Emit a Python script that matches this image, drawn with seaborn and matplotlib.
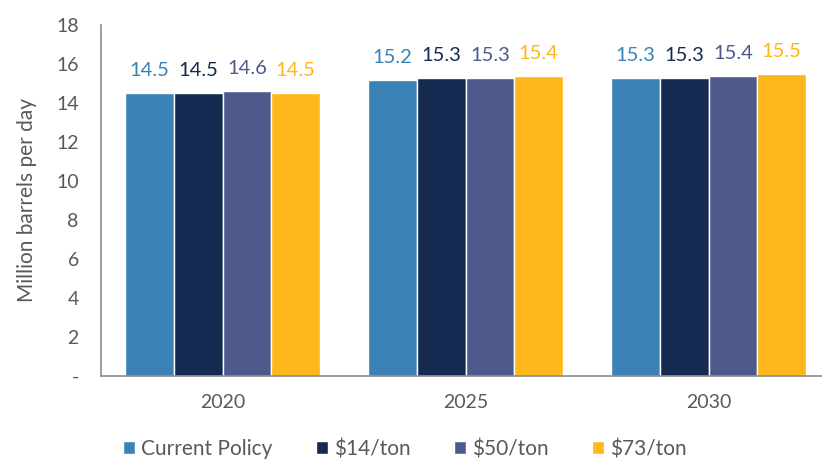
import matplotlib.pyplot as plt
import seaborn as sns
import pandas as pd
from matplotlib.ticker import FuncFormatter

years = ["2020", "2025", "2030"]
scenarios = ["Current Policy", "$14/ton", "$50/ton", "$73/ton"]
current_policy = [14.5, 15.2, 15.3]
tax_14 = [14.5, 15.3, 15.3]
tax_50 = [14.6, 15.3, 15.4]
tax_73 = [14.5, 15.4, 15.5]

colors = ["#3A82B5", "#142A50", "#4F5A8C", "#FDB71A"]
text_grey = "#595959"

df = pd.DataFrame({
    "year": years * 4,
    "scenario": [s for s in scenarios for _ in years],
    "value": current_policy + tax_14 + tax_50 + tax_73,
})

sns.set_style("white")
plt.rcParams["font.family"] = ["Lato", "DejaVu Sans"]

fig = plt.figure(figsize=(8.22, 4.59), dpi=100)
ax = fig.add_axes([101 / 822, 1 - 376 / 459, 729 / 822, 351 / 459])

sns.barplot(data=df, x="year", y="value", hue="scenario", palette=colors,
            width=0.8, saturation=1, ax=ax, legend=True)

# value labels above each bar, coloured like the bar
for cont, col in zip(ax.containers, colors):
    ax.bar_label(cont, labels=[f"{v:.1f}" for v in cont.datavalues],
                 padding=10, color=col, fontsize=14.5)

ax.set_xlim(-0.5, 2.5)
ax.set_ylim(0, 18)
ax.set_yticks(range(0, 19, 2))
ax.yaxis.set_major_formatter(FuncFormatter(lambda v, p: "-" if v == 0 else f"{v:.0f}"))
ax.tick_params(axis="both", colors=text_grey, labelsize=14, length=0)
ax.tick_params(axis="x", pad=13)
ax.tick_params(axis="y", pad=16)
ax.set_xlabel("")
ax.set_ylabel("Million barrels per day", color=text_grey, fontsize=15, labelpad=14)

for side in ["top", "right"]:
    ax.spines[side].set_visible(False)
for side in ["left", "bottom"]:
    ax.spines[side].set_color("#8C8C8C")
    ax.spines[side].set_linewidth(1.2)

handles, labels = ax.get_legend_handles_labels()
ax.legend(handles, labels, loc="center", bbox_to_anchor=(405 / 822, 1 - 449 / 459),
          bbox_transform=fig.transFigure, ncol=4, frameon=False,
          fontsize=15, labelcolor=text_grey, handlelength=0.55, handleheight=0.55,
          handletextpad=0.3, columnspacing=2.1)

fig.savefig("out.png", dpi=100)
